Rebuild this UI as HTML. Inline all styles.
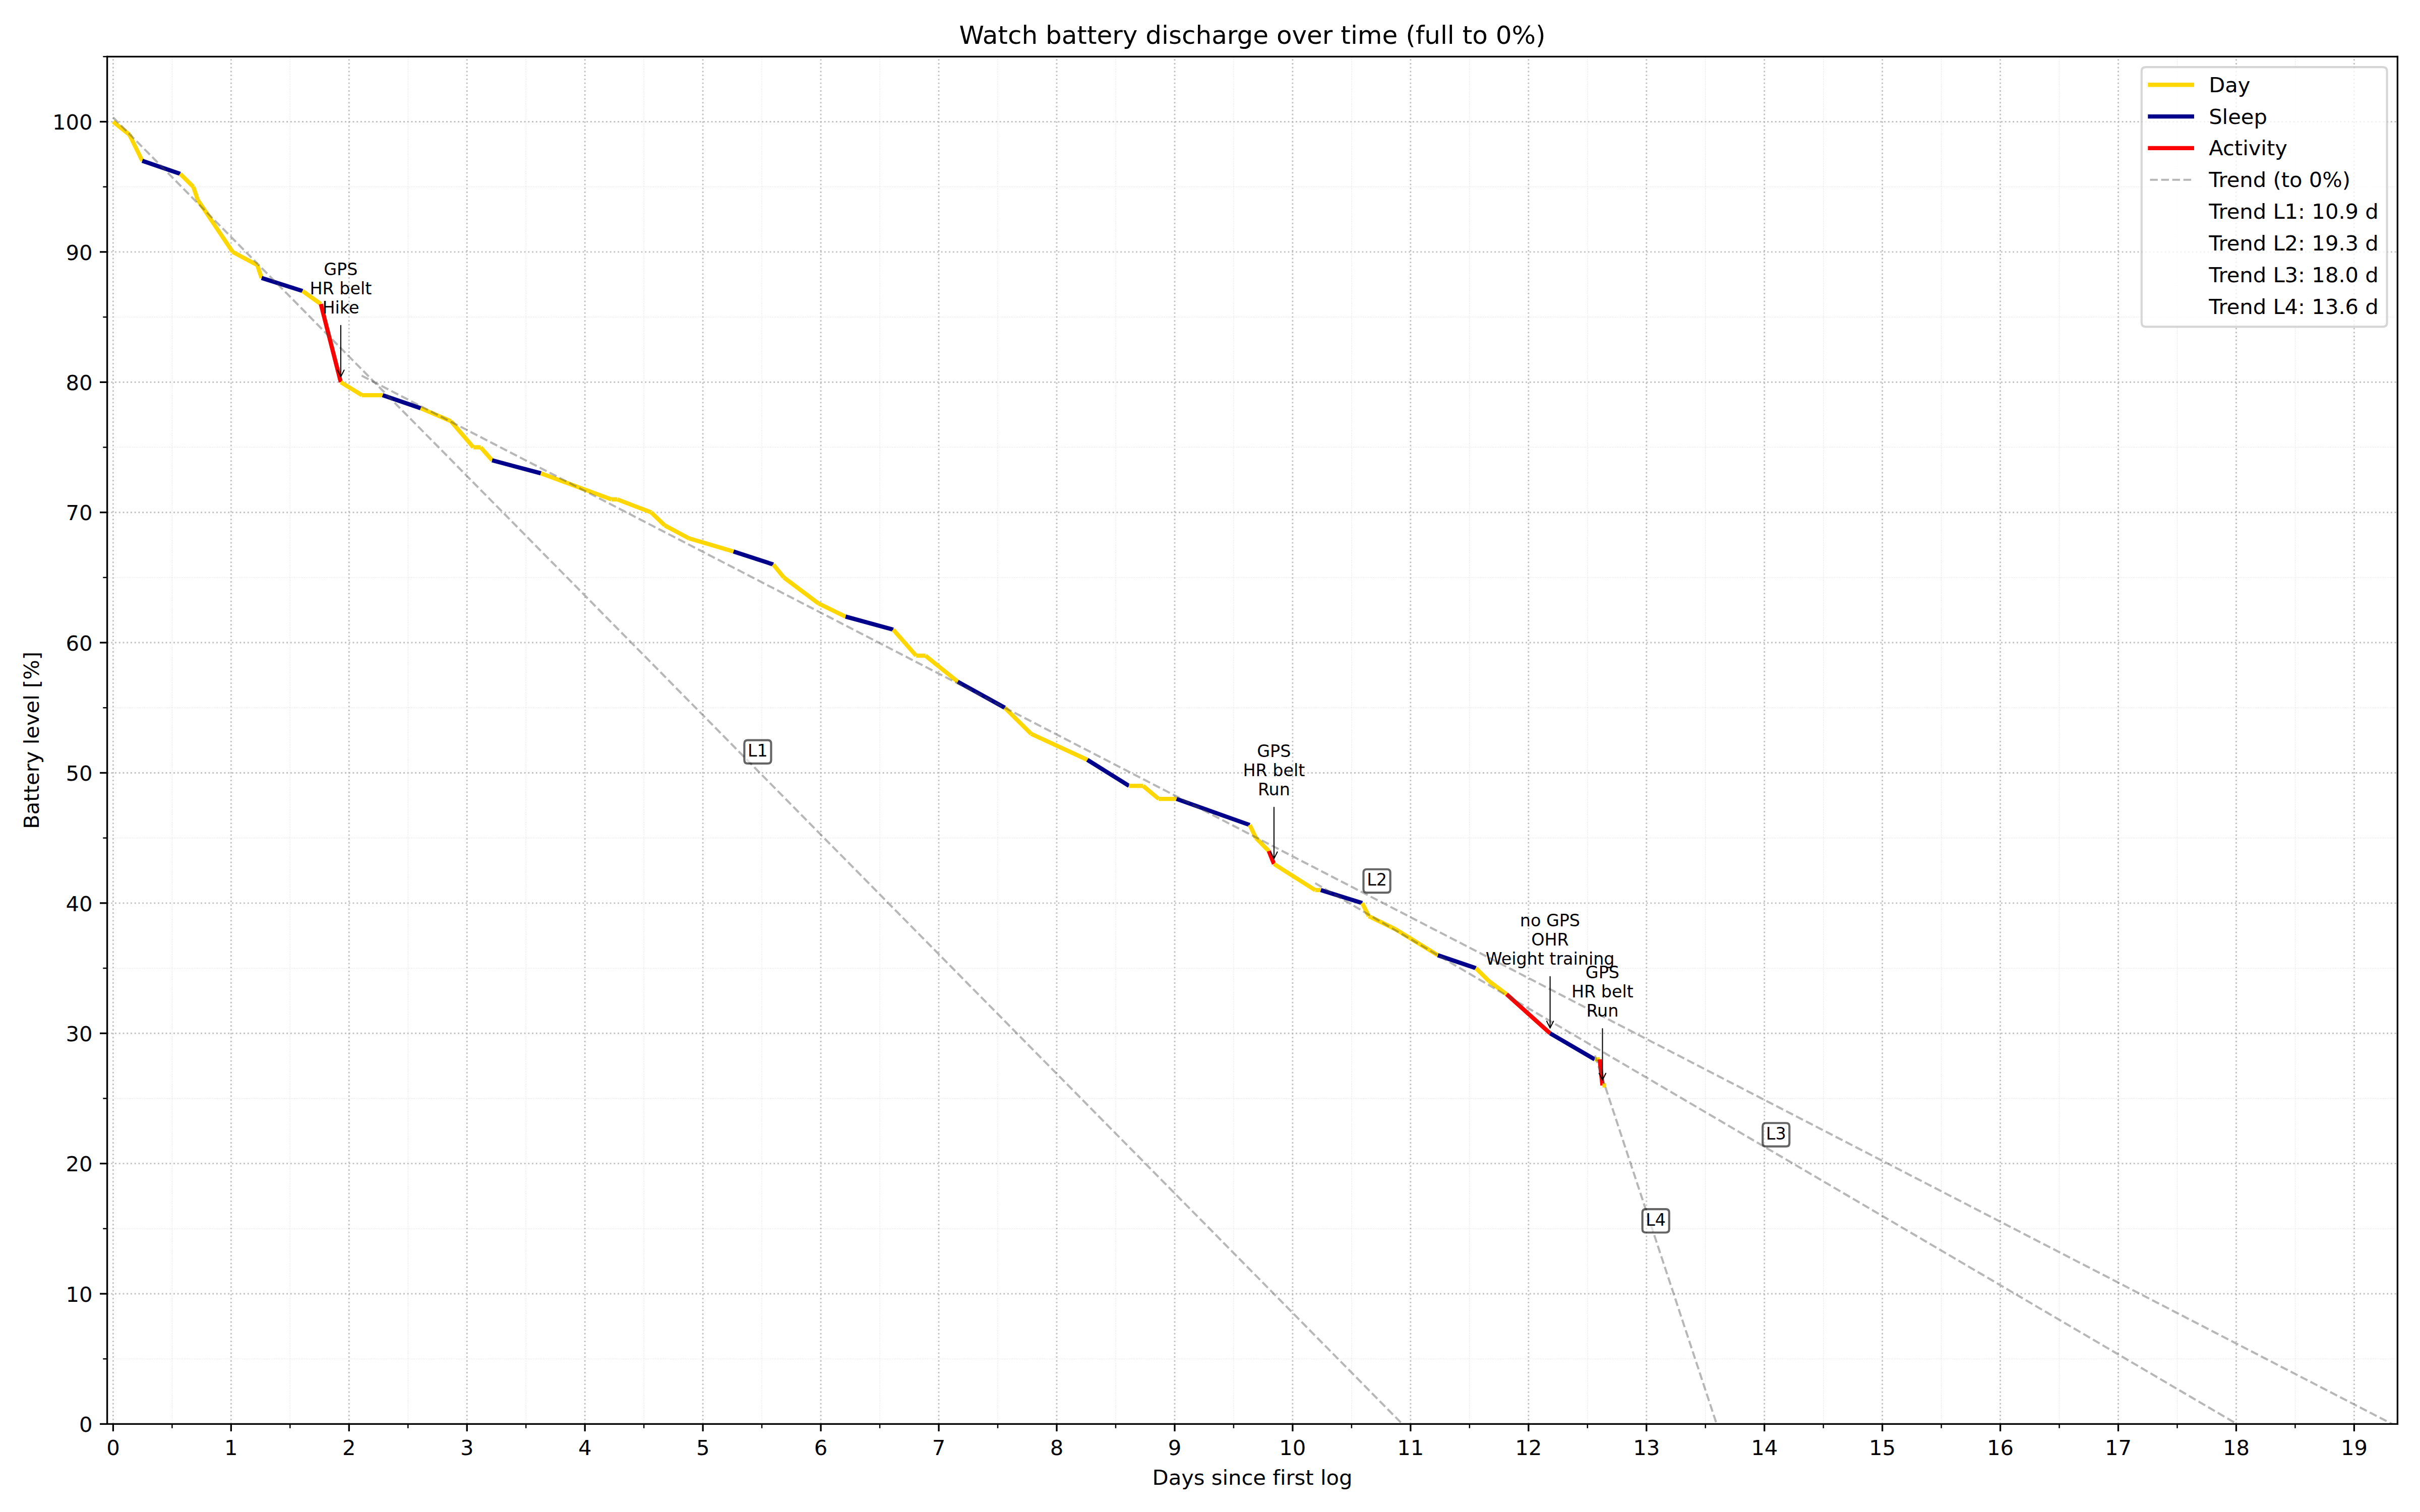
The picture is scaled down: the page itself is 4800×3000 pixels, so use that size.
<!DOCTYPE html>
<html lang="en">
<head>
<meta charset="utf-8">
<title>Watch battery discharge over time</title>
<style>html,body{margin:0;padding:0;background:#fff;}body{width:4800px;height:3000px;overflow:hidden;}svg{display:block;}svg text{font-family:"DejaVu Sans","Liberation Sans",sans-serif;font-variant-ligatures:none;font-feature-settings:"liga" 0,"clig" 0;}</style>
</head>
<body>
<svg width="4800" height="3000" viewBox="0 0 1152 720" version="1.1">
 <defs>
  <style type="text/css">*{stroke-linejoin: round; stroke-linecap: butt}</style>
 </defs>
 <g id="figure_1">
  <g id="patch_1">
   <path d="M 0 720 L 1152 720 L 1152 0 L 0 0 z" style="fill: #ffffff"/>
  </g>
  <g id="axes_1">
   <g id="patch_2">
    <path d="M 51.024 678.096 L 1141.296 678.096 L 1141.296 26.952 L 51.024 26.952 z" style="fill: #ffffff"/>
   </g>
   <g id="matplotlib.axis_1">
    <g id="xtick_1">
     <g id="line2d_1">
      <path d="M 53.856 678.096 L 53.856 26.952" clip-path="url(#pb41a5ad9aa)" style="fill: none; stroke-dasharray: 0.7,1.155; stroke-dashoffset: 0; stroke: #b0b0b0; stroke-opacity: 0.8; stroke-width: 0.7"/>
     </g>
     <g id="line2d_2">
      <g>
       <path d="M 0 0 L 0 3.5" transform="translate(53.856 678.096)" style="stroke: #000000; stroke-width: 0.8"/>
      </g>
     </g>
     <g id="text_1">
      <text style="font-size: 10px; font-family: 'DejaVu Sans'; text-anchor: middle" x="53.856" y="692.836">0</text>
     </g>
    </g>
    <g id="xtick_2">
     <g id="line2d_3">
      <path d="M 110.003368 678.096 L 110.003368 26.952" clip-path="url(#pb41a5ad9aa)" style="fill: none; stroke-dasharray: 0.7,1.155; stroke-dashoffset: 0; stroke: #b0b0b0; stroke-opacity: 0.8; stroke-width: 0.7"/>
     </g>
     <g id="line2d_4">
      <g>
       <path d="M 0 0 L 0 3.5" transform="translate(110.003368 678.096)" style="stroke: #000000; stroke-width: 0.8"/>
      </g>
     </g>
     <g id="text_2">
      <text style="font-size: 10px; font-family: 'DejaVu Sans'; text-anchor: middle" x="110.003" y="692.836">1</text>
     </g>
    </g>
    <g id="xtick_3">
     <g id="line2d_5">
      <path d="M 166.150737 678.096 L 166.150737 26.952" clip-path="url(#pb41a5ad9aa)" style="fill: none; stroke-dasharray: 0.7,1.155; stroke-dashoffset: 0; stroke: #b0b0b0; stroke-opacity: 0.8; stroke-width: 0.7"/>
     </g>
     <g id="line2d_6">
      <g>
       <path d="M 0 0 L 0 3.5" transform="translate(166.150737 678.096)" style="stroke: #000000; stroke-width: 0.8"/>
      </g>
     </g>
     <g id="text_3">
      <text style="font-size: 10px; font-family: 'DejaVu Sans'; text-anchor: middle" x="166.151" y="692.836">2</text>
     </g>
    </g>
    <g id="xtick_4">
     <g id="line2d_7">
      <path d="M 222.298105 678.096 L 222.298105 26.952" clip-path="url(#pb41a5ad9aa)" style="fill: none; stroke-dasharray: 0.7,1.155; stroke-dashoffset: 0; stroke: #b0b0b0; stroke-opacity: 0.8; stroke-width: 0.7"/>
     </g>
     <g id="line2d_8">
      <g>
       <path d="M 0 0 L 0 3.5" transform="translate(222.298105 678.096)" style="stroke: #000000; stroke-width: 0.8"/>
      </g>
     </g>
     <g id="text_4">
      <text style="font-size: 10px; font-family: 'DejaVu Sans'; text-anchor: middle" x="222.298" y="692.836">3</text>
     </g>
    </g>
    <g id="xtick_5">
     <g id="line2d_9">
      <path d="M 278.445474 678.096 L 278.445474 26.952" clip-path="url(#pb41a5ad9aa)" style="fill: none; stroke-dasharray: 0.7,1.155; stroke-dashoffset: 0; stroke: #b0b0b0; stroke-opacity: 0.8; stroke-width: 0.7"/>
     </g>
     <g id="line2d_10">
      <g>
       <path d="M 0 0 L 0 3.5" transform="translate(278.445474 678.096)" style="stroke: #000000; stroke-width: 0.8"/>
      </g>
     </g>
     <g id="text_5">
      <text style="font-size: 10px; font-family: 'DejaVu Sans'; text-anchor: middle" x="278.445" y="692.836">4</text>
     </g>
    </g>
    <g id="xtick_6">
     <g id="line2d_11">
      <path d="M 334.592842 678.096 L 334.592842 26.952" clip-path="url(#pb41a5ad9aa)" style="fill: none; stroke-dasharray: 0.7,1.155; stroke-dashoffset: 0; stroke: #b0b0b0; stroke-opacity: 0.8; stroke-width: 0.7"/>
     </g>
     <g id="line2d_12">
      <g>
       <path d="M 0 0 L 0 3.5" transform="translate(334.592842 678.096)" style="stroke: #000000; stroke-width: 0.8"/>
      </g>
     </g>
     <g id="text_6">
      <text style="font-size: 10px; font-family: 'DejaVu Sans'; text-anchor: middle" x="334.593" y="692.836">5</text>
     </g>
    </g>
    <g id="xtick_7">
     <g id="line2d_13">
      <path d="M 390.740211 678.096 L 390.740211 26.952" clip-path="url(#pb41a5ad9aa)" style="fill: none; stroke-dasharray: 0.7,1.155; stroke-dashoffset: 0; stroke: #b0b0b0; stroke-opacity: 0.8; stroke-width: 0.7"/>
     </g>
     <g id="line2d_14">
      <g>
       <path d="M 0 0 L 0 3.5" transform="translate(390.740211 678.096)" style="stroke: #000000; stroke-width: 0.8"/>
      </g>
     </g>
     <g id="text_7">
      <text style="font-size: 10px; font-family: 'DejaVu Sans'; text-anchor: middle" x="390.740" y="692.836">6</text>
     </g>
    </g>
    <g id="xtick_8">
     <g id="line2d_15">
      <path d="M 446.887579 678.096 L 446.887579 26.952" clip-path="url(#pb41a5ad9aa)" style="fill: none; stroke-dasharray: 0.7,1.155; stroke-dashoffset: 0; stroke: #b0b0b0; stroke-opacity: 0.8; stroke-width: 0.7"/>
     </g>
     <g id="line2d_16">
      <g>
       <path d="M 0 0 L 0 3.5" transform="translate(446.887579 678.096)" style="stroke: #000000; stroke-width: 0.8"/>
      </g>
     </g>
     <g id="text_8">
      <text style="font-size: 10px; font-family: 'DejaVu Sans'; text-anchor: middle" x="446.888" y="692.836">7</text>
     </g>
    </g>
    <g id="xtick_9">
     <g id="line2d_17">
      <path d="M 503.034947 678.096 L 503.034947 26.952" clip-path="url(#pb41a5ad9aa)" style="fill: none; stroke-dasharray: 0.7,1.155; stroke-dashoffset: 0; stroke: #b0b0b0; stroke-opacity: 0.8; stroke-width: 0.7"/>
     </g>
     <g id="line2d_18">
      <g>
       <path d="M 0 0 L 0 3.5" transform="translate(503.034947 678.096)" style="stroke: #000000; stroke-width: 0.8"/>
      </g>
     </g>
     <g id="text_9">
      <text style="font-size: 10px; font-family: 'DejaVu Sans'; text-anchor: middle" x="503.035" y="692.836">8</text>
     </g>
    </g>
    <g id="xtick_10">
     <g id="line2d_19">
      <path d="M 559.182316 678.096 L 559.182316 26.952" clip-path="url(#pb41a5ad9aa)" style="fill: none; stroke-dasharray: 0.7,1.155; stroke-dashoffset: 0; stroke: #b0b0b0; stroke-opacity: 0.8; stroke-width: 0.7"/>
     </g>
     <g id="line2d_20">
      <g>
       <path d="M 0 0 L 0 3.5" transform="translate(559.182316 678.096)" style="stroke: #000000; stroke-width: 0.8"/>
      </g>
     </g>
     <g id="text_10">
      <text style="font-size: 10px; font-family: 'DejaVu Sans'; text-anchor: middle" x="559.182" y="692.836">9</text>
     </g>
    </g>
    <g id="xtick_11">
     <g id="line2d_21">
      <path d="M 615.329684 678.096 L 615.329684 26.952" clip-path="url(#pb41a5ad9aa)" style="fill: none; stroke-dasharray: 0.7,1.155; stroke-dashoffset: 0; stroke: #b0b0b0; stroke-opacity: 0.8; stroke-width: 0.7"/>
     </g>
     <g id="line2d_22">
      <g>
       <path d="M 0 0 L 0 3.5" transform="translate(615.329684 678.096)" style="stroke: #000000; stroke-width: 0.8"/>
      </g>
     </g>
     <g id="text_11">
      <text style="font-size: 10px; font-family: 'DejaVu Sans'; text-anchor: middle" x="615.330" y="692.836">10</text>
     </g>
    </g>
    <g id="xtick_12">
     <g id="line2d_23">
      <path d="M 671.477053 678.096 L 671.477053 26.952" clip-path="url(#pb41a5ad9aa)" style="fill: none; stroke-dasharray: 0.7,1.155; stroke-dashoffset: 0; stroke: #b0b0b0; stroke-opacity: 0.8; stroke-width: 0.7"/>
     </g>
     <g id="line2d_24">
      <g>
       <path d="M 0 0 L 0 3.5" transform="translate(671.477053 678.096)" style="stroke: #000000; stroke-width: 0.8"/>
      </g>
     </g>
     <g id="text_12">
      <text style="font-size: 10px; font-family: 'DejaVu Sans'; text-anchor: middle" x="671.477" y="692.836">11</text>
     </g>
    </g>
    <g id="xtick_13">
     <g id="line2d_25">
      <path d="M 727.624421 678.096 L 727.624421 26.952" clip-path="url(#pb41a5ad9aa)" style="fill: none; stroke-dasharray: 0.7,1.155; stroke-dashoffset: 0; stroke: #b0b0b0; stroke-opacity: 0.8; stroke-width: 0.7"/>
     </g>
     <g id="line2d_26">
      <g>
       <path d="M 0 0 L 0 3.5" transform="translate(727.624421 678.096)" style="stroke: #000000; stroke-width: 0.8"/>
      </g>
     </g>
     <g id="text_13">
      <text style="font-size: 10px; font-family: 'DejaVu Sans'; text-anchor: middle" x="727.624" y="692.836">12</text>
     </g>
    </g>
    <g id="xtick_14">
     <g id="line2d_27">
      <path d="M 783.771789 678.096 L 783.771789 26.952" clip-path="url(#pb41a5ad9aa)" style="fill: none; stroke-dasharray: 0.7,1.155; stroke-dashoffset: 0; stroke: #b0b0b0; stroke-opacity: 0.8; stroke-width: 0.7"/>
     </g>
     <g id="line2d_28">
      <g>
       <path d="M 0 0 L 0 3.5" transform="translate(783.771789 678.096)" style="stroke: #000000; stroke-width: 0.8"/>
      </g>
     </g>
     <g id="text_14">
      <text style="font-size: 10px; font-family: 'DejaVu Sans'; text-anchor: middle" x="783.772" y="692.836">13</text>
     </g>
    </g>
    <g id="xtick_15">
     <g id="line2d_29">
      <path d="M 839.919158 678.096 L 839.919158 26.952" clip-path="url(#pb41a5ad9aa)" style="fill: none; stroke-dasharray: 0.7,1.155; stroke-dashoffset: 0; stroke: #b0b0b0; stroke-opacity: 0.8; stroke-width: 0.7"/>
     </g>
     <g id="line2d_30">
      <g>
       <path d="M 0 0 L 0 3.5" transform="translate(839.919158 678.096)" style="stroke: #000000; stroke-width: 0.8"/>
      </g>
     </g>
     <g id="text_15">
      <text style="font-size: 10px; font-family: 'DejaVu Sans'; text-anchor: middle" x="839.919" y="692.836">14</text>
     </g>
    </g>
    <g id="xtick_16">
     <g id="line2d_31">
      <path d="M 896.066526 678.096 L 896.066526 26.952" clip-path="url(#pb41a5ad9aa)" style="fill: none; stroke-dasharray: 0.7,1.155; stroke-dashoffset: 0; stroke: #b0b0b0; stroke-opacity: 0.8; stroke-width: 0.7"/>
     </g>
     <g id="line2d_32">
      <g>
       <path d="M 0 0 L 0 3.5" transform="translate(896.066526 678.096)" style="stroke: #000000; stroke-width: 0.8"/>
      </g>
     </g>
     <g id="text_16">
      <text style="font-size: 10px; font-family: 'DejaVu Sans'; text-anchor: middle" x="896.067" y="692.836">15</text>
     </g>
    </g>
    <g id="xtick_17">
     <g id="line2d_33">
      <path d="M 952.213895 678.096 L 952.213895 26.952" clip-path="url(#pb41a5ad9aa)" style="fill: none; stroke-dasharray: 0.7,1.155; stroke-dashoffset: 0; stroke: #b0b0b0; stroke-opacity: 0.8; stroke-width: 0.7"/>
     </g>
     <g id="line2d_34">
      <g>
       <path d="M 0 0 L 0 3.5" transform="translate(952.213895 678.096)" style="stroke: #000000; stroke-width: 0.8"/>
      </g>
     </g>
     <g id="text_17">
      <text style="font-size: 10px; font-family: 'DejaVu Sans'; text-anchor: middle" x="952.214" y="692.836">16</text>
     </g>
    </g>
    <g id="xtick_18">
     <g id="line2d_35">
      <path d="M 1008.361263 678.096 L 1008.361263 26.952" clip-path="url(#pb41a5ad9aa)" style="fill: none; stroke-dasharray: 0.7,1.155; stroke-dashoffset: 0; stroke: #b0b0b0; stroke-opacity: 0.8; stroke-width: 0.7"/>
     </g>
     <g id="line2d_36">
      <g>
       <path d="M 0 0 L 0 3.5" transform="translate(1008.361263 678.096)" style="stroke: #000000; stroke-width: 0.8"/>
      </g>
     </g>
     <g id="text_18">
      <text style="font-size: 10px; font-family: 'DejaVu Sans'; text-anchor: middle" x="1008.361" y="692.836">17</text>
     </g>
    </g>
    <g id="xtick_19">
     <g id="line2d_37">
      <path d="M 1064.508632 678.096 L 1064.508632 26.952" clip-path="url(#pb41a5ad9aa)" style="fill: none; stroke-dasharray: 0.7,1.155; stroke-dashoffset: 0; stroke: #b0b0b0; stroke-opacity: 0.8; stroke-width: 0.7"/>
     </g>
     <g id="line2d_38">
      <g>
       <path d="M 0 0 L 0 3.5" transform="translate(1064.508632 678.096)" style="stroke: #000000; stroke-width: 0.8"/>
      </g>
     </g>
     <g id="text_19">
      <text style="font-size: 10px; font-family: 'DejaVu Sans'; text-anchor: middle" x="1064.509" y="692.836">18</text>
     </g>
    </g>
    <g id="xtick_20">
     <g id="line2d_39">
      <path d="M 1120.656 678.096 L 1120.656 26.952" clip-path="url(#pb41a5ad9aa)" style="fill: none; stroke-dasharray: 0.7,1.155; stroke-dashoffset: 0; stroke: #b0b0b0; stroke-opacity: 0.8; stroke-width: 0.7"/>
     </g>
     <g id="line2d_40">
      <g>
       <path d="M 0 0 L 0 3.5" transform="translate(1120.656 678.096)" style="stroke: #000000; stroke-width: 0.8"/>
      </g>
     </g>
     <g id="text_20">
      <text style="font-size: 10px; font-family: 'DejaVu Sans'; text-anchor: middle" x="1120.656" y="692.836">19</text>
     </g>
    </g>
    <g id="xtick_21">
     <g id="line2d_41">
      <path d="M 81.929684 678.096 L 81.929684 26.952" clip-path="url(#pb41a5ad9aa)" style="fill: none; stroke-dasharray: 0.3,0.495; stroke-dashoffset: 0; stroke: #b0b0b0; stroke-opacity: 0.4; stroke-width: 0.3"/>
     </g>
     <g id="line2d_42">
      <g>
       <path d="M 0 0 L 0 2" transform="translate(81.929684 678.096)" style="stroke: #000000; stroke-width: 0.6"/>
      </g>
     </g>
    </g>
    <g id="xtick_22">
     <g id="line2d_43">
      <path d="M 138.077053 678.096 L 138.077053 26.952" clip-path="url(#pb41a5ad9aa)" style="fill: none; stroke-dasharray: 0.3,0.495; stroke-dashoffset: 0; stroke: #b0b0b0; stroke-opacity: 0.4; stroke-width: 0.3"/>
     </g>
     <g id="line2d_44">
      <g>
       <path d="M 0 0 L 0 2" transform="translate(138.077053 678.096)" style="stroke: #000000; stroke-width: 0.6"/>
      </g>
     </g>
    </g>
    <g id="xtick_23">
     <g id="line2d_45">
      <path d="M 194.224421 678.096 L 194.224421 26.952" clip-path="url(#pb41a5ad9aa)" style="fill: none; stroke-dasharray: 0.3,0.495; stroke-dashoffset: 0; stroke: #b0b0b0; stroke-opacity: 0.4; stroke-width: 0.3"/>
     </g>
     <g id="line2d_46">
      <g>
       <path d="M 0 0 L 0 2" transform="translate(194.224421 678.096)" style="stroke: #000000; stroke-width: 0.6"/>
      </g>
     </g>
    </g>
    <g id="xtick_24">
     <g id="line2d_47">
      <path d="M 250.371789 678.096 L 250.371789 26.952" clip-path="url(#pb41a5ad9aa)" style="fill: none; stroke-dasharray: 0.3,0.495; stroke-dashoffset: 0; stroke: #b0b0b0; stroke-opacity: 0.4; stroke-width: 0.3"/>
     </g>
     <g id="line2d_48">
      <g>
       <path d="M 0 0 L 0 2" transform="translate(250.371789 678.096)" style="stroke: #000000; stroke-width: 0.6"/>
      </g>
     </g>
    </g>
    <g id="xtick_25">
     <g id="line2d_49">
      <path d="M 306.519158 678.096 L 306.519158 26.952" clip-path="url(#pb41a5ad9aa)" style="fill: none; stroke-dasharray: 0.3,0.495; stroke-dashoffset: 0; stroke: #b0b0b0; stroke-opacity: 0.4; stroke-width: 0.3"/>
     </g>
     <g id="line2d_50">
      <g>
       <path d="M 0 0 L 0 2" transform="translate(306.519158 678.096)" style="stroke: #000000; stroke-width: 0.6"/>
      </g>
     </g>
    </g>
    <g id="xtick_26">
     <g id="line2d_51">
      <path d="M 362.666526 678.096 L 362.666526 26.952" clip-path="url(#pb41a5ad9aa)" style="fill: none; stroke-dasharray: 0.3,0.495; stroke-dashoffset: 0; stroke: #b0b0b0; stroke-opacity: 0.4; stroke-width: 0.3"/>
     </g>
     <g id="line2d_52">
      <g>
       <path d="M 0 0 L 0 2" transform="translate(362.666526 678.096)" style="stroke: #000000; stroke-width: 0.6"/>
      </g>
     </g>
    </g>
    <g id="xtick_27">
     <g id="line2d_53">
      <path d="M 418.813895 678.096 L 418.813895 26.952" clip-path="url(#pb41a5ad9aa)" style="fill: none; stroke-dasharray: 0.3,0.495; stroke-dashoffset: 0; stroke: #b0b0b0; stroke-opacity: 0.4; stroke-width: 0.3"/>
     </g>
     <g id="line2d_54">
      <g>
       <path d="M 0 0 L 0 2" transform="translate(418.813895 678.096)" style="stroke: #000000; stroke-width: 0.6"/>
      </g>
     </g>
    </g>
    <g id="xtick_28">
     <g id="line2d_55">
      <path d="M 474.961263 678.096 L 474.961263 26.952" clip-path="url(#pb41a5ad9aa)" style="fill: none; stroke-dasharray: 0.3,0.495; stroke-dashoffset: 0; stroke: #b0b0b0; stroke-opacity: 0.4; stroke-width: 0.3"/>
     </g>
     <g id="line2d_56">
      <g>
       <path d="M 0 0 L 0 2" transform="translate(474.961263 678.096)" style="stroke: #000000; stroke-width: 0.6"/>
      </g>
     </g>
    </g>
    <g id="xtick_29">
     <g id="line2d_57">
      <path d="M 531.108632 678.096 L 531.108632 26.952" clip-path="url(#pb41a5ad9aa)" style="fill: none; stroke-dasharray: 0.3,0.495; stroke-dashoffset: 0; stroke: #b0b0b0; stroke-opacity: 0.4; stroke-width: 0.3"/>
     </g>
     <g id="line2d_58">
      <g>
       <path d="M 0 0 L 0 2" transform="translate(531.108632 678.096)" style="stroke: #000000; stroke-width: 0.6"/>
      </g>
     </g>
    </g>
    <g id="xtick_30">
     <g id="line2d_59">
      <path d="M 587.256 678.096 L 587.256 26.952" clip-path="url(#pb41a5ad9aa)" style="fill: none; stroke-dasharray: 0.3,0.495; stroke-dashoffset: 0; stroke: #b0b0b0; stroke-opacity: 0.4; stroke-width: 0.3"/>
     </g>
     <g id="line2d_60">
      <g>
       <path d="M 0 0 L 0 2" transform="translate(587.256 678.096)" style="stroke: #000000; stroke-width: 0.6"/>
      </g>
     </g>
    </g>
    <g id="xtick_31">
     <g id="line2d_61">
      <path d="M 643.403368 678.096 L 643.403368 26.952" clip-path="url(#pb41a5ad9aa)" style="fill: none; stroke-dasharray: 0.3,0.495; stroke-dashoffset: 0; stroke: #b0b0b0; stroke-opacity: 0.4; stroke-width: 0.3"/>
     </g>
     <g id="line2d_62">
      <g>
       <path d="M 0 0 L 0 2" transform="translate(643.403368 678.096)" style="stroke: #000000; stroke-width: 0.6"/>
      </g>
     </g>
    </g>
    <g id="xtick_32">
     <g id="line2d_63">
      <path d="M 699.550737 678.096 L 699.550737 26.952" clip-path="url(#pb41a5ad9aa)" style="fill: none; stroke-dasharray: 0.3,0.495; stroke-dashoffset: 0; stroke: #b0b0b0; stroke-opacity: 0.4; stroke-width: 0.3"/>
     </g>
     <g id="line2d_64">
      <g>
       <path d="M 0 0 L 0 2" transform="translate(699.550737 678.096)" style="stroke: #000000; stroke-width: 0.6"/>
      </g>
     </g>
    </g>
    <g id="xtick_33">
     <g id="line2d_65">
      <path d="M 755.698105 678.096 L 755.698105 26.952" clip-path="url(#pb41a5ad9aa)" style="fill: none; stroke-dasharray: 0.3,0.495; stroke-dashoffset: 0; stroke: #b0b0b0; stroke-opacity: 0.4; stroke-width: 0.3"/>
     </g>
     <g id="line2d_66">
      <g>
       <path d="M 0 0 L 0 2" transform="translate(755.698105 678.096)" style="stroke: #000000; stroke-width: 0.6"/>
      </g>
     </g>
    </g>
    <g id="xtick_34">
     <g id="line2d_67">
      <path d="M 811.845474 678.096 L 811.845474 26.952" clip-path="url(#pb41a5ad9aa)" style="fill: none; stroke-dasharray: 0.3,0.495; stroke-dashoffset: 0; stroke: #b0b0b0; stroke-opacity: 0.4; stroke-width: 0.3"/>
     </g>
     <g id="line2d_68">
      <g>
       <path d="M 0 0 L 0 2" transform="translate(811.845474 678.096)" style="stroke: #000000; stroke-width: 0.6"/>
      </g>
     </g>
    </g>
    <g id="xtick_35">
     <g id="line2d_69">
      <path d="M 867.992842 678.096 L 867.992842 26.952" clip-path="url(#pb41a5ad9aa)" style="fill: none; stroke-dasharray: 0.3,0.495; stroke-dashoffset: 0; stroke: #b0b0b0; stroke-opacity: 0.4; stroke-width: 0.3"/>
     </g>
     <g id="line2d_70">
      <g>
       <path d="M 0 0 L 0 2" transform="translate(867.992842 678.096)" style="stroke: #000000; stroke-width: 0.6"/>
      </g>
     </g>
    </g>
    <g id="xtick_36">
     <g id="line2d_71">
      <path d="M 924.140211 678.096 L 924.140211 26.952" clip-path="url(#pb41a5ad9aa)" style="fill: none; stroke-dasharray: 0.3,0.495; stroke-dashoffset: 0; stroke: #b0b0b0; stroke-opacity: 0.4; stroke-width: 0.3"/>
     </g>
     <g id="line2d_72">
      <g>
       <path d="M 0 0 L 0 2" transform="translate(924.140211 678.096)" style="stroke: #000000; stroke-width: 0.6"/>
      </g>
     </g>
    </g>
    <g id="xtick_37">
     <g id="line2d_73">
      <path d="M 980.287579 678.096 L 980.287579 26.952" clip-path="url(#pb41a5ad9aa)" style="fill: none; stroke-dasharray: 0.3,0.495; stroke-dashoffset: 0; stroke: #b0b0b0; stroke-opacity: 0.4; stroke-width: 0.3"/>
     </g>
     <g id="line2d_74">
      <g>
       <path d="M 0 0 L 0 2" transform="translate(980.287579 678.096)" style="stroke: #000000; stroke-width: 0.6"/>
      </g>
     </g>
    </g>
    <g id="xtick_38">
     <g id="line2d_75">
      <path d="M 1036.434947 678.096 L 1036.434947 26.952" clip-path="url(#pb41a5ad9aa)" style="fill: none; stroke-dasharray: 0.3,0.495; stroke-dashoffset: 0; stroke: #b0b0b0; stroke-opacity: 0.4; stroke-width: 0.3"/>
     </g>
     <g id="line2d_76">
      <g>
       <path d="M 0 0 L 0 2" transform="translate(1036.434947 678.096)" style="stroke: #000000; stroke-width: 0.6"/>
      </g>
     </g>
    </g>
    <g id="xtick_39">
     <g id="line2d_77">
      <path d="M 1092.582316 678.096 L 1092.582316 26.952" clip-path="url(#pb41a5ad9aa)" style="fill: none; stroke-dasharray: 0.3,0.495; stroke-dashoffset: 0; stroke: #b0b0b0; stroke-opacity: 0.4; stroke-width: 0.3"/>
     </g>
     <g id="line2d_78">
      <g>
       <path d="M 0 0 L 0 2" transform="translate(1092.582316 678.096)" style="stroke: #000000; stroke-width: 0.6"/>
      </g>
     </g>
    </g>
    <g id="text_21">
     <text style="font-size: 10px; font-family: 'DejaVu Sans'; text-anchor: middle" x="596.16" y="707.096" transform="rotate(-0 596.16 707.096)">Days since first log</text>
    </g>
   </g>
   <g id="matplotlib.axis_2">
    <g id="ytick_1">
     <g id="line2d_79">
      <path d="M 51.024 678.096 L 1141.296 678.096" clip-path="url(#pb41a5ad9aa)" style="fill: none; stroke-dasharray: 0.7,1.155; stroke-dashoffset: 0; stroke: #b0b0b0; stroke-opacity: 0.8; stroke-width: 0.7"/>
     </g>
     <g id="line2d_80">
      <g>
       <path d="M 0 0 L -3.5 0" transform="translate(51.024 678.096)" style="stroke: #000000; stroke-width: 0.8"/>
      </g>
     </g>
     <g id="text_22">
      <text style="font-size: 10px; font-family: 'DejaVu Sans'; text-anchor: end" x="44.024" y="681.876">0</text>
     </g>
    </g>
    <g id="ytick_2">
     <g id="line2d_81">
      <path d="M 51.024 616.082286 L 1141.296 616.082286" clip-path="url(#pb41a5ad9aa)" style="fill: none; stroke-dasharray: 0.7,1.155; stroke-dashoffset: 0; stroke: #b0b0b0; stroke-opacity: 0.8; stroke-width: 0.7"/>
     </g>
     <g id="line2d_82">
      <g>
       <path d="M 0 0 L -3.5 0" transform="translate(51.024 616.082286)" style="stroke: #000000; stroke-width: 0.8"/>
      </g>
     </g>
     <g id="text_23">
      <text style="font-size: 10px; font-family: 'DejaVu Sans'; text-anchor: end" x="44.024" y="619.862">10</text>
     </g>
    </g>
    <g id="ytick_3">
     <g id="line2d_83">
      <path d="M 51.024 554.068571 L 1141.296 554.068571" clip-path="url(#pb41a5ad9aa)" style="fill: none; stroke-dasharray: 0.7,1.155; stroke-dashoffset: 0; stroke: #b0b0b0; stroke-opacity: 0.8; stroke-width: 0.7"/>
     </g>
     <g id="line2d_84">
      <g>
       <path d="M 0 0 L -3.5 0" transform="translate(51.024 554.068571)" style="stroke: #000000; stroke-width: 0.8"/>
      </g>
     </g>
     <g id="text_24">
      <text style="font-size: 10px; font-family: 'DejaVu Sans'; text-anchor: end" x="44.024" y="557.849">20</text>
     </g>
    </g>
    <g id="ytick_4">
     <g id="line2d_85">
      <path d="M 51.024 492.054857 L 1141.296 492.054857" clip-path="url(#pb41a5ad9aa)" style="fill: none; stroke-dasharray: 0.7,1.155; stroke-dashoffset: 0; stroke: #b0b0b0; stroke-opacity: 0.8; stroke-width: 0.7"/>
     </g>
     <g id="line2d_86">
      <g>
       <path d="M 0 0 L -3.5 0" transform="translate(51.024 492.054857)" style="stroke: #000000; stroke-width: 0.8"/>
      </g>
     </g>
     <g id="text_25">
      <text style="font-size: 10px; font-family: 'DejaVu Sans'; text-anchor: end" x="44.024" y="495.835">30</text>
     </g>
    </g>
    <g id="ytick_5">
     <g id="line2d_87">
      <path d="M 51.024 430.041143 L 1141.296 430.041143" clip-path="url(#pb41a5ad9aa)" style="fill: none; stroke-dasharray: 0.7,1.155; stroke-dashoffset: 0; stroke: #b0b0b0; stroke-opacity: 0.8; stroke-width: 0.7"/>
     </g>
     <g id="line2d_88">
      <g>
       <path d="M 0 0 L -3.5 0" transform="translate(51.024 430.041143)" style="stroke: #000000; stroke-width: 0.8"/>
      </g>
     </g>
     <g id="text_26">
      <text style="font-size: 10px; font-family: 'DejaVu Sans'; text-anchor: end" x="44.024" y="433.821">40</text>
     </g>
    </g>
    <g id="ytick_6">
     <g id="line2d_89">
      <path d="M 51.024 368.027429 L 1141.296 368.027429" clip-path="url(#pb41a5ad9aa)" style="fill: none; stroke-dasharray: 0.7,1.155; stroke-dashoffset: 0; stroke: #b0b0b0; stroke-opacity: 0.8; stroke-width: 0.7"/>
     </g>
     <g id="line2d_90">
      <g>
       <path d="M 0 0 L -3.5 0" transform="translate(51.024 368.027429)" style="stroke: #000000; stroke-width: 0.8"/>
      </g>
     </g>
     <g id="text_27">
      <text style="font-size: 10px; font-family: 'DejaVu Sans'; text-anchor: end" x="44.024" y="371.807">50</text>
     </g>
    </g>
    <g id="ytick_7">
     <g id="line2d_91">
      <path d="M 51.024 306.013714 L 1141.296 306.013714" clip-path="url(#pb41a5ad9aa)" style="fill: none; stroke-dasharray: 0.7,1.155; stroke-dashoffset: 0; stroke: #b0b0b0; stroke-opacity: 0.8; stroke-width: 0.7"/>
     </g>
     <g id="line2d_92">
      <g>
       <path d="M 0 0 L -3.5 0" transform="translate(51.024 306.013714)" style="stroke: #000000; stroke-width: 0.8"/>
      </g>
     </g>
     <g id="text_28">
      <text style="font-size: 10px; font-family: 'DejaVu Sans'; text-anchor: end" x="44.024" y="309.794">60</text>
     </g>
    </g>
    <g id="ytick_8">
     <g id="line2d_93">
      <path d="M 51.024 244 L 1141.296 244" clip-path="url(#pb41a5ad9aa)" style="fill: none; stroke-dasharray: 0.7,1.155; stroke-dashoffset: 0; stroke: #b0b0b0; stroke-opacity: 0.8; stroke-width: 0.7"/>
     </g>
     <g id="line2d_94">
      <g>
       <path d="M 0 0 L -3.5 0" transform="translate(51.024 244)" style="stroke: #000000; stroke-width: 0.8"/>
      </g>
     </g>
     <g id="text_29">
      <text style="font-size: 10px; font-family: 'DejaVu Sans'; text-anchor: end" x="44.024" y="247.780">70</text>
     </g>
    </g>
    <g id="ytick_9">
     <g id="line2d_95">
      <path d="M 51.024 181.986286 L 1141.296 181.986286" clip-path="url(#pb41a5ad9aa)" style="fill: none; stroke-dasharray: 0.7,1.155; stroke-dashoffset: 0; stroke: #b0b0b0; stroke-opacity: 0.8; stroke-width: 0.7"/>
     </g>
     <g id="line2d_96">
      <g>
       <path d="M 0 0 L -3.5 0" transform="translate(51.024 181.986286)" style="stroke: #000000; stroke-width: 0.8"/>
      </g>
     </g>
     <g id="text_30">
      <text style="font-size: 10px; font-family: 'DejaVu Sans'; text-anchor: end" x="44.024" y="185.766">80</text>
     </g>
    </g>
    <g id="ytick_10">
     <g id="line2d_97">
      <path d="M 51.024 119.972571 L 1141.296 119.972571" clip-path="url(#pb41a5ad9aa)" style="fill: none; stroke-dasharray: 0.7,1.155; stroke-dashoffset: 0; stroke: #b0b0b0; stroke-opacity: 0.8; stroke-width: 0.7"/>
     </g>
     <g id="line2d_98">
      <g>
       <path d="M 0 0 L -3.5 0" transform="translate(51.024 119.972571)" style="stroke: #000000; stroke-width: 0.8"/>
      </g>
     </g>
     <g id="text_31">
      <text style="font-size: 10px; font-family: 'DejaVu Sans'; text-anchor: end" x="44.024" y="123.753">90</text>
     </g>
    </g>
    <g id="ytick_11">
     <g id="line2d_99">
      <path d="M 51.024 57.958857 L 1141.296 57.958857" clip-path="url(#pb41a5ad9aa)" style="fill: none; stroke-dasharray: 0.7,1.155; stroke-dashoffset: 0; stroke: #b0b0b0; stroke-opacity: 0.8; stroke-width: 0.7"/>
     </g>
     <g id="line2d_100">
      <g>
       <path d="M 0 0 L -3.5 0" transform="translate(51.024 57.958857)" style="stroke: #000000; stroke-width: 0.8"/>
      </g>
     </g>
     <g id="text_32">
      <text style="font-size: 10px; font-family: 'DejaVu Sans'; text-anchor: end" x="44.024" y="61.739">100</text>
     </g>
    </g>
    <g id="ytick_12">
     <g id="line2d_101">
      <path d="M 51.024 647.089143 L 1141.296 647.089143" clip-path="url(#pb41a5ad9aa)" style="fill: none; stroke-dasharray: 0.3,0.495; stroke-dashoffset: 0; stroke: #b0b0b0; stroke-opacity: 0.4; stroke-width: 0.3"/>
     </g>
     <g id="line2d_102">
      <g>
       <path d="M 0 0 L -2 0" transform="translate(51.024 647.089143)" style="stroke: #000000; stroke-width: 0.6"/>
      </g>
     </g>
    </g>
    <g id="ytick_13">
     <g id="line2d_103">
      <path d="M 51.024 585.075429 L 1141.296 585.075429" clip-path="url(#pb41a5ad9aa)" style="fill: none; stroke-dasharray: 0.3,0.495; stroke-dashoffset: 0; stroke: #b0b0b0; stroke-opacity: 0.4; stroke-width: 0.3"/>
     </g>
     <g id="line2d_104">
      <g>
       <path d="M 0 0 L -2 0" transform="translate(51.024 585.075429)" style="stroke: #000000; stroke-width: 0.6"/>
      </g>
     </g>
    </g>
    <g id="ytick_14">
     <g id="line2d_105">
      <path d="M 51.024 523.061714 L 1141.296 523.061714" clip-path="url(#pb41a5ad9aa)" style="fill: none; stroke-dasharray: 0.3,0.495; stroke-dashoffset: 0; stroke: #b0b0b0; stroke-opacity: 0.4; stroke-width: 0.3"/>
     </g>
     <g id="line2d_106">
      <g>
       <path d="M 0 0 L -2 0" transform="translate(51.024 523.061714)" style="stroke: #000000; stroke-width: 0.6"/>
      </g>
     </g>
    </g>
    <g id="ytick_15">
     <g id="line2d_107">
      <path d="M 51.024 461.048 L 1141.296 461.048" clip-path="url(#pb41a5ad9aa)" style="fill: none; stroke-dasharray: 0.3,0.495; stroke-dashoffset: 0; stroke: #b0b0b0; stroke-opacity: 0.4; stroke-width: 0.3"/>
     </g>
     <g id="line2d_108">
      <g>
       <path d="M 0 0 L -2 0" transform="translate(51.024 461.048)" style="stroke: #000000; stroke-width: 0.6"/>
      </g>
     </g>
    </g>
    <g id="ytick_16">
     <g id="line2d_109">
      <path d="M 51.024 399.034286 L 1141.296 399.034286" clip-path="url(#pb41a5ad9aa)" style="fill: none; stroke-dasharray: 0.3,0.495; stroke-dashoffset: 0; stroke: #b0b0b0; stroke-opacity: 0.4; stroke-width: 0.3"/>
     </g>
     <g id="line2d_110">
      <g>
       <path d="M 0 0 L -2 0" transform="translate(51.024 399.034286)" style="stroke: #000000; stroke-width: 0.6"/>
      </g>
     </g>
    </g>
    <g id="ytick_17">
     <g id="line2d_111">
      <path d="M 51.024 337.020571 L 1141.296 337.020571" clip-path="url(#pb41a5ad9aa)" style="fill: none; stroke-dasharray: 0.3,0.495; stroke-dashoffset: 0; stroke: #b0b0b0; stroke-opacity: 0.4; stroke-width: 0.3"/>
     </g>
     <g id="line2d_112">
      <g>
       <path d="M 0 0 L -2 0" transform="translate(51.024 337.020571)" style="stroke: #000000; stroke-width: 0.6"/>
      </g>
     </g>
    </g>
    <g id="ytick_18">
     <g id="line2d_113">
      <path d="M 51.024 275.006857 L 1141.296 275.006857" clip-path="url(#pb41a5ad9aa)" style="fill: none; stroke-dasharray: 0.3,0.495; stroke-dashoffset: 0; stroke: #b0b0b0; stroke-opacity: 0.4; stroke-width: 0.3"/>
     </g>
     <g id="line2d_114">
      <g>
       <path d="M 0 0 L -2 0" transform="translate(51.024 275.006857)" style="stroke: #000000; stroke-width: 0.6"/>
      </g>
     </g>
    </g>
    <g id="ytick_19">
     <g id="line2d_115">
      <path d="M 51.024 212.993143 L 1141.296 212.993143" clip-path="url(#pb41a5ad9aa)" style="fill: none; stroke-dasharray: 0.3,0.495; stroke-dashoffset: 0; stroke: #b0b0b0; stroke-opacity: 0.4; stroke-width: 0.3"/>
     </g>
     <g id="line2d_116">
      <g>
       <path d="M 0 0 L -2 0" transform="translate(51.024 212.993143)" style="stroke: #000000; stroke-width: 0.6"/>
      </g>
     </g>
    </g>
    <g id="ytick_20">
     <g id="line2d_117">
      <path d="M 51.024 150.979429 L 1141.296 150.979429" clip-path="url(#pb41a5ad9aa)" style="fill: none; stroke-dasharray: 0.3,0.495; stroke-dashoffset: 0; stroke: #b0b0b0; stroke-opacity: 0.4; stroke-width: 0.3"/>
     </g>
     <g id="line2d_118">
      <g>
       <path d="M 0 0 L -2 0" transform="translate(51.024 150.979429)" style="stroke: #000000; stroke-width: 0.6"/>
      </g>
     </g>
    </g>
    <g id="ytick_21">
     <g id="line2d_119">
      <path d="M 51.024 88.965714 L 1141.296 88.965714" clip-path="url(#pb41a5ad9aa)" style="fill: none; stroke-dasharray: 0.3,0.495; stroke-dashoffset: 0; stroke: #b0b0b0; stroke-opacity: 0.4; stroke-width: 0.3"/>
     </g>
     <g id="line2d_120">
      <g>
       <path d="M 0 0 L -2 0" transform="translate(51.024 88.965714)" style="stroke: #000000; stroke-width: 0.6"/>
      </g>
     </g>
    </g>
    <g id="ytick_22">
     <g id="line2d_121">
      <path d="M 51.024 26.952 L 1141.296 26.952" clip-path="url(#pb41a5ad9aa)" style="fill: none; stroke-dasharray: 0.3,0.495; stroke-dashoffset: 0; stroke: #b0b0b0; stroke-opacity: 0.4; stroke-width: 0.3"/>
     </g>
     <g id="line2d_122">
      <g>
       <path d="M 0 0 L -2 0" transform="translate(51.024 26.952)" style="stroke: #000000; stroke-width: 0.6"/>
      </g>
     </g>
    </g>
    <g id="text_33">
     <text style="font-size: 10px; font-family: 'DejaVu Sans'; text-anchor: middle" x="18.544" y="352.524" transform="rotate(-90 18.544 352.524)">Battery level [%]</text>
    </g>
   </g>
   <g id="LineCollection_1">
    <path d="M 53.856 57.958857 L 61.632411 64.160229" clip-path="url(#pb41a5ad9aa)" style="fill: none; stroke: #ffd700; stroke-width: 2"/>
    <path d="M 61.632411 64.160229 L 67.7244 76.562971" clip-path="url(#pb41a5ad9aa)" style="fill: none; stroke: #ffd700; stroke-width: 2"/>
    <path d="M 67.7244 76.562971 L 85.775779 82.764343" clip-path="url(#pb41a5ad9aa)" style="fill: none; stroke: #00008b; stroke-width: 2"/>
    <path d="M 85.775779 82.764343 L 92.036211 88.965714" clip-path="url(#pb41a5ad9aa)" style="fill: none; stroke: #ffd700; stroke-width: 2"/>
    <path d="M 92.036211 88.965714 L 94.113663 95.167086" clip-path="url(#pb41a5ad9aa)" style="fill: none; stroke: #ffd700; stroke-width: 2"/>
    <path d="M 94.113663 95.167086 L 110.761358 119.972571" clip-path="url(#pb41a5ad9aa)" style="fill: none; stroke: #ffd700; stroke-width: 2"/>
    <path d="M 110.761358 119.972571 L 122.45124 126.173943" clip-path="url(#pb41a5ad9aa)" style="fill: none; stroke: #ffd700; stroke-width: 2"/>
    <path d="M 122.45124 126.173943 L 124.545537 132.375314" clip-path="url(#pb41a5ad9aa)" style="fill: none; stroke: #ffd700; stroke-width: 2"/>
    <path d="M 124.545537 132.375314 L 144.028674 138.576686" clip-path="url(#pb41a5ad9aa)" style="fill: none; stroke: #00008b; stroke-width: 2"/>
    <path d="M 144.028674 138.576686 L 152.731516 144.778057" clip-path="url(#pb41a5ad9aa)" style="fill: none; stroke: #ffd700; stroke-width: 2"/>
    <path d="M 152.731516 144.778057 L 162.220421 181.986286" clip-path="url(#pb41a5ad9aa)" style="fill: none; stroke: #ff0000; stroke-width: 2"/>
    <path d="M 162.220421 181.986286 L 172.326947 188.187657" clip-path="url(#pb41a5ad9aa)" style="fill: none; stroke: #ffd700; stroke-width: 2"/>
    <path d="M 172.326947 188.187657 L 182.152737 188.187657" clip-path="url(#pb41a5ad9aa)" style="fill: none; stroke: #ffd700; stroke-width: 2"/>
    <path d="M 182.152737 188.187657 L 200.288337 194.389029" clip-path="url(#pb41a5ad9aa)" style="fill: none; stroke: #00008b; stroke-width: 2"/>
    <path d="M 200.288337 194.389029 L 214.662063 200.5904" clip-path="url(#pb41a5ad9aa)" style="fill: none; stroke: #ffd700; stroke-width: 2"/>
    <path d="M 214.662063 200.5904 L 225.330063 212.993143" clip-path="url(#pb41a5ad9aa)" style="fill: none; stroke: #ffd700; stroke-width: 2"/>
    <path d="M 225.330063 212.993143 L 228.8112 212.993143" clip-path="url(#pb41a5ad9aa)" style="fill: none; stroke: #ffd700; stroke-width: 2"/>
    <path d="M 228.8112 212.993143 L 234.257495 219.194514" clip-path="url(#pb41a5ad9aa)" style="fill: none; stroke: #ffd700; stroke-width: 2"/>
    <path d="M 234.257495 219.194514 L 257.502505 225.395886" clip-path="url(#pb41a5ad9aa)" style="fill: none; stroke: #00008b; stroke-width: 2"/>
    <path d="M 257.502505 225.395886 L 291.078632 237.798629" clip-path="url(#pb41a5ad9aa)" style="fill: none; stroke: #ffd700; stroke-width: 2"/>
    <path d="M 291.078632 237.798629 L 293.886 237.798629" clip-path="url(#pb41a5ad9aa)" style="fill: none; stroke: #ffd700; stroke-width: 2"/>
    <path d="M 293.886 237.798629 L 310.000295 244" clip-path="url(#pb41a5ad9aa)" style="fill: none; stroke: #ffd700; stroke-width: 2"/>
    <path d="M 310.000295 244 L 316.457242 250.201371" clip-path="url(#pb41a5ad9aa)" style="fill: none; stroke: #ffd700; stroke-width: 2"/>
    <path d="M 316.457242 250.201371 L 328.079747 256.402743" clip-path="url(#pb41a5ad9aa)" style="fill: none; stroke: #ffd700; stroke-width: 2"/>
    <path d="M 328.079747 256.402743 L 349.191158 262.604114" clip-path="url(#pb41a5ad9aa)" style="fill: none; stroke: #ffd700; stroke-width: 2"/>
    <path d="M 349.191158 262.604114 L 368.112821 268.805486" clip-path="url(#pb41a5ad9aa)" style="fill: none; stroke: #00008b; stroke-width: 2"/>
    <path d="M 368.112821 268.805486 L 373.166084 275.006857" clip-path="url(#pb41a5ad9aa)" style="fill: none; stroke: #ffd700; stroke-width: 2"/>
    <path d="M 373.166084 275.006857 L 389.729558 287.4096" clip-path="url(#pb41a5ad9aa)" style="fill: none; stroke: #ffd700; stroke-width: 2"/>
    <path d="M 389.729558 287.4096 L 402.531158 293.610971" clip-path="url(#pb41a5ad9aa)" style="fill: none; stroke: #ffd700; stroke-width: 2"/>
    <path d="M 402.531158 293.610971 L 425.214695 299.812343" clip-path="url(#pb41a5ad9aa)" style="fill: none; stroke: #00008b; stroke-width: 2"/>
    <path d="M 425.214695 299.812343 L 436.107284 312.215086" clip-path="url(#pb41a5ad9aa)" style="fill: none; stroke: #ffd700; stroke-width: 2"/>
    <path d="M 436.107284 312.215086 L 440.542926 312.215086" clip-path="url(#pb41a5ad9aa)" style="fill: none; stroke: #ffd700; stroke-width: 2"/>
    <path d="M 440.542926 312.215086 L 455.927305 324.617829" clip-path="url(#pb41a5ad9aa)" style="fill: none; stroke: #ffd700; stroke-width: 2"/>
    <path d="M 455.927305 324.617829 L 478.330105 337.020571" clip-path="url(#pb41a5ad9aa)" style="fill: none; stroke: #00008b; stroke-width: 2"/>
    <path d="M 478.330105 337.020571 L 490.850968 349.423314" clip-path="url(#pb41a5ad9aa)" style="fill: none; stroke: #ffd700; stroke-width: 2"/>
    <path d="M 490.850968 349.423314 L 517.633263 361.826057" clip-path="url(#pb41a5ad9aa)" style="fill: none; stroke: #ffd700; stroke-width: 2"/>
    <path d="M 517.633263 361.826057 L 537.453284 374.2288" clip-path="url(#pb41a5ad9aa)" style="fill: none; stroke: #00008b; stroke-width: 2"/>
    <path d="M 537.453284 374.2288 L 544.134821 374.2288" clip-path="url(#pb41a5ad9aa)" style="fill: none; stroke: #ffd700; stroke-width: 2"/>
    <path d="M 544.134821 374.2288 L 551.602421 380.430171" clip-path="url(#pb41a5ad9aa)" style="fill: none; stroke: #ffd700; stroke-width: 2"/>
    <path d="M 551.602421 380.430171 L 560.080674 380.430171" clip-path="url(#pb41a5ad9aa)" style="fill: none; stroke: #ffd700; stroke-width: 2"/>
    <path d="M 560.080674 380.430171 L 594.892042 392.832914" clip-path="url(#pb41a5ad9aa)" style="fill: none; stroke: #00008b; stroke-width: 2"/>
    <path d="M 594.892042 392.832914 L 597.867853 399.034286" clip-path="url(#pb41a5ad9aa)" style="fill: none; stroke: #ffd700; stroke-width: 2"/>
    <path d="M 597.867853 399.034286 L 603.987916 405.235657" clip-path="url(#pb41a5ad9aa)" style="fill: none; stroke: #ffd700; stroke-width: 2"/>
    <path d="M 603.987916 405.235657 L 606.4584 411.437029" clip-path="url(#pb41a5ad9aa)" style="fill: none; stroke: #ff0000; stroke-width: 2"/>
    <path d="M 606.4584 411.437029 L 626.053832 423.839771" clip-path="url(#pb41a5ad9aa)" style="fill: none; stroke: #ffd700; stroke-width: 2"/>
    <path d="M 626.053832 423.839771 L 628.748905 423.839771" clip-path="url(#pb41a5ad9aa)" style="fill: none; stroke: #ffd700; stroke-width: 2"/>
    <path d="M 628.748905 423.839771 L 648.456632 430.041143" clip-path="url(#pb41a5ad9aa)" style="fill: none; stroke: #00008b; stroke-width: 2"/>
    <path d="M 648.456632 430.041143 L 651.544737 436.242514" clip-path="url(#pb41a5ad9aa)" style="fill: none; stroke: #ffd700; stroke-width: 2"/>
    <path d="M 651.544737 436.242514 L 664.234042 442.443886" clip-path="url(#pb41a5ad9aa)" style="fill: none; stroke: #ffd700; stroke-width: 2"/>
    <path d="M 664.234042 442.443886 L 684.447095 454.846629" clip-path="url(#pb41a5ad9aa)" style="fill: none; stroke: #ffd700; stroke-width: 2"/>
    <path d="M 684.447095 454.846629 L 702.582695 461.048" clip-path="url(#pb41a5ad9aa)" style="fill: none; stroke: #00008b; stroke-width: 2"/>
    <path d="M 702.582695 461.048 L 708.8712 467.249371" clip-path="url(#pb41a5ad9aa)" style="fill: none; stroke: #ffd700; stroke-width: 2"/>
    <path d="M 708.8712 467.249371 L 717.181011 473.450743" clip-path="url(#pb41a5ad9aa)" style="fill: none; stroke: #ffd700; stroke-width: 2"/>
    <path d="M 717.181011 473.450743 L 737.899389 492.054857" clip-path="url(#pb41a5ad9aa)" style="fill: none; stroke: #ff0000; stroke-width: 2"/>
    <path d="M 737.899389 492.054857 L 759.123095 504.4576" clip-path="url(#pb41a5ad9aa)" style="fill: none; stroke: #00008b; stroke-width: 2"/>
    <path d="M 759.123095 504.4576 L 761.481284 504.4576" clip-path="url(#pb41a5ad9aa)" style="fill: none; stroke: #ffd700; stroke-width: 2"/>
    <path d="M 761.481284 504.4576 L 762.828821 516.860343" clip-path="url(#pb41a5ad9aa)" style="fill: none; stroke: #ff0000; stroke-width: 2"/>
    <path d="M 762.828821 516.860343 L 764.569389 516.860343" clip-path="url(#pb41a5ad9aa)" style="fill: none; stroke: #ffd700; stroke-width: 2"/>
   </g>
   <g id="line2d_123">
    <path d="M 53.856 55.912405 L 667.546737 678.096" clip-path="url(#pb41a5ad9aa)" style="fill: none; stroke-dasharray: 3.7,1.6; stroke-dashoffset: 0; stroke: #4c4c4c; stroke-opacity: 0.4"/>
   </g>
   <g id="line2d_124">
    <path d="M 172.158505 178.8856 L 1138.735453 678.096" clip-path="url(#pb41a5ad9aa)" style="fill: none; stroke-dasharray: 3.7,1.6; stroke-dashoffset: 0; stroke: #4c4c4c; stroke-opacity: 0.4"/>
   </g>
   <g id="line2d_125">
    <path d="M 626.053832 420.553045 L 1064.845516 678.096" clip-path="url(#pb41a5ad9aa)" style="fill: none; stroke-dasharray: 3.7,1.6; stroke-dashoffset: 0; stroke: #4c4c4c; stroke-opacity: 0.4"/>
   </g>
   <g id="line2d_126">
    <path d="M 759.235389 502.597189 L 817.179474 678.096" clip-path="url(#pb41a5ad9aa)" style="fill: none; stroke-dasharray: 3.7,1.6; stroke-dashoffset: 0; stroke: #4c4c4c; stroke-opacity: 0.4"/>
   </g>
   <g id="patch_3">
    <path d="M 51.024 678.096 L 51.024 26.952" style="fill: none; stroke: #000000; stroke-width: 0.8; stroke-linejoin: miter; stroke-linecap: square"/>
   </g>
   <g id="patch_4">
    <path d="M 1141.296 678.096 L 1141.296 26.952" style="fill: none; stroke: #000000; stroke-width: 0.8; stroke-linejoin: miter; stroke-linecap: square"/>
   </g>
   <g id="patch_5">
    <path d="M 51.024 678.096 L 1141.296 678.096" style="fill: none; stroke: #000000; stroke-width: 0.8; stroke-linejoin: miter; stroke-linecap: square"/>
   </g>
   <g id="patch_6">
    <path d="M 51.024 26.952 L 1141.296 26.952" style="fill: none; stroke: #000000; stroke-width: 0.8; stroke-linejoin: miter; stroke-linecap: square"/>
   </g>
   <g id="text_34">
    <text style="font-size: 12px; font-family: 'DejaVu Sans'; text-anchor: middle" x="596.16" y="20.952" transform="rotate(-0 596.16 20.952)">Watch battery discharge over time (full to 0%)</text>
   </g>
   <g id="text_35">
    <g id="patch_7">
     <path d="M 355.931368 363.572214 L 365.471368 363.572214 Q 367.071368 363.572214 367.071368 361.972214 L 367.071368 354.052214 Q 367.071368 352.452214 365.471368 352.452214 L 355.931368 352.452214 Q 354.331368 352.452214 354.331368 354.052214 L 354.331368 361.972214 Q 354.331368 363.572214 355.931368 363.572214 z" style="fill: #ffffff; opacity: 0.6; stroke: #000000; stroke-linejoin: miter"/>
    </g>
    <text style="font-size: 8px; font-family: 'DejaVu Sans'; text-anchor: middle" x="360.701368" y="360.292214" transform="rotate(-0 360.701368 360.292214)">L1</text>
   </g>
   <g id="text_36">
    <g id="patch_8">
     <path d="M 650.661979 425.058811 L 660.231979 425.058811 Q 661.831979 425.058811 661.831979 423.458811 L 661.831979 415.538811 Q 661.831979 413.938811 660.231979 413.938811 L 650.661979 413.938811 Q 649.061979 413.938811 649.061979 415.538811 L 649.061979 423.458811 Q 649.061979 425.058811 650.661979 425.058811 z" style="fill: #ffffff; opacity: 0.6; stroke: #000000; stroke-linejoin: miter"/>
    </g>
    <text style="font-size: 8px; font-family: 'DejaVu Sans'; text-anchor: middle" x="655.446979" y="421.778811" transform="rotate(-0 655.446979 421.778811)">L2</text>
   </g>
   <g id="text_37">
    <g id="patch_9">
     <path d="M 840.679674 545.892534 L 850.219674 545.892534 Q 851.819674 545.892534 851.819674 544.292534 L 851.819674 536.372534 Q 851.819674 534.772534 850.219674 534.772534 L 840.679674 534.772534 Q 839.079674 534.772534 839.079674 536.372534 L 839.079674 544.292534 Q 839.079674 545.892534 840.679674 545.892534 z" style="fill: #ffffff; opacity: 0.6; stroke: #000000; stroke-linejoin: miter"/>
    </g>
    <text style="font-size: 8px; font-family: 'DejaVu Sans'; text-anchor: middle" x="845.449674" y="542.612534" transform="rotate(-0 845.449674 542.612534)">L3</text>
   </g>
   <g id="text_38">
    <g id="patch_10">
     <path d="M 783.437432 586.914606 L 792.977432 586.914606 Q 794.577432 586.914606 794.577432 585.314606 L 794.577432 577.394606 Q 794.577432 575.794606 792.977432 575.794606 L 783.437432 575.794606 Q 781.837432 575.794606 781.837432 577.394606 L 781.837432 585.314606 Q 781.837432 586.914606 783.437432 586.914606 z" style="fill: #ffffff; opacity: 0.6; stroke: #000000; stroke-linejoin: miter"/>
    </g>
    <text style="font-size: 8px; font-family: 'DejaVu Sans'; text-anchor: middle" x="788.207432" y="583.634606" transform="rotate(-0 788.207432 583.634606)">L4</text>
   </g>
   <g id="legend_1">
    <g id="patch_11">
     <path d="M 1021.476 155.592 L 1134.296 155.592 Q 1136.296 155.592 1136.296 153.592 L 1136.296 33.952 Q 1136.296 31.952 1134.296 31.952 L 1021.476 31.952 Q 1019.476 31.952 1019.476 33.952 L 1019.476 153.592 Q 1019.476 155.592 1021.476 155.592 z" style="fill: #ffffff; opacity: 0.8; stroke: #cccccc; stroke-linejoin: miter"/>
    </g>
    <g id="line2d_127">
     <path d="M 1023.476 40.372 L 1033.476 40.372 L 1043.476 40.372" style="fill: none; stroke: #ffd700; stroke-width: 2; stroke-linecap: square"/>
    </g>
    <g id="text_39">
     <text style="font-size: 10px; font-family: 'DejaVu Sans'; text-anchor: start" x="1051.476" y="43.872" transform="rotate(-0 1051.476 43.872)">Day</text>
    </g>
    <g id="line2d_128">
     <path d="M 1023.476 55.452 L 1033.476 55.452 L 1043.476 55.452" style="fill: none; stroke: #00008b; stroke-width: 2; stroke-linecap: square"/>
    </g>
    <g id="text_40">
     <text style="font-size: 10px; font-family: 'DejaVu Sans'; text-anchor: start" x="1051.476" y="58.952" transform="rotate(-0 1051.476 58.952)">Sleep</text>
    </g>
    <g id="line2d_129">
     <path d="M 1023.476 70.532 L 1033.476 70.532 L 1043.476 70.532" style="fill: none; stroke: #ff0000; stroke-width: 2; stroke-linecap: square"/>
    </g>
    <g id="text_41">
     <text style="font-size: 10px; font-family: 'DejaVu Sans'; text-anchor: start" x="1051.476" y="74.032" transform="rotate(-0 1051.476 74.032)">Activity</text>
    </g>
    <g id="line2d_130">
     <path d="M 1023.476 85.612 L 1033.476 85.612 L 1043.476 85.612" style="fill: none; stroke-dasharray: 3.7,1.6; stroke-dashoffset: 0; stroke: #4c4c4c; stroke-opacity: 0.4"/>
    </g>
    <g id="text_42">
     <text style="font-size: 10px; font-family: 'DejaVu Sans'; text-anchor: start" x="1051.476" y="89.112" transform="rotate(-0 1051.476 89.112)">Trend (to 0%)</text>
    </g>
    <g id="line2d_131"/>
    <g id="text_43">
     <text style="font-size: 10px; font-family: 'DejaVu Sans'; text-anchor: start" x="1051.476" y="104.192" transform="rotate(-0 1051.476 104.192)">Trend L1: 10.9 d</text>
    </g>
    <g id="line2d_132"/>
    <g id="text_44">
     <text style="font-size: 10px; font-family: 'DejaVu Sans'; text-anchor: start" x="1051.476" y="119.272" transform="rotate(-0 1051.476 119.272)">Trend L2: 19.3 d</text>
    </g>
    <g id="line2d_133"/>
    <g id="text_45">
     <text style="font-size: 10px; font-family: 'DejaVu Sans'; text-anchor: start" x="1051.476" y="134.352" transform="rotate(-0 1051.476 134.352)">Trend L3: 18.0 d</text>
    </g>
    <g id="line2d_134"/>
    <g id="text_46">
     <text style="font-size: 10px; font-family: 'DejaVu Sans'; text-anchor: start" x="1051.476" y="149.432" transform="rotate(-0 1051.476 149.432)">Trend L4: 13.6 d</text>
    </g>
   </g>
   <g id="patch_12">
    <path d="M 162.220421 154.986966 Q 162.220421 167.486346 162.220421 179.426709" style="fill: none; stroke: #000000; stroke-width: 0.5; stroke-linecap: round"/>
    <path d="M 163.820421 176.226709 L 162.220421 179.426709 L 160.620421 176.226709" style="fill: none; stroke: #000000; stroke-width: 0.5; stroke-linecap: round"/>
   </g>
   <g id="text_47">
    <text style="font-size: 8px; font-family: 'DejaVu Sans'" transform="translate(154.150421 130.970286)">GPS</text>
    <text style="font-size: 8px; font-family: 'DejaVu Sans'" transform="translate(147.475421 140.138286)">HR belt</text>
    <text style="font-size: 8px; font-family: 'DejaVu Sans'" transform="translate(153.490421 149.306286)">Hike</text>
   </g>
   <g id="patch_13">
    <path d="M 606.4584 384.437709 Q 606.4584 396.937089 606.4584 408.877452" style="fill: none; stroke: #000000; stroke-width: 0.5; stroke-linecap: round"/>
    <path d="M 608.0584 405.677452 L 606.4584 408.877452 L 604.8584 405.677452" style="fill: none; stroke: #000000; stroke-width: 0.5; stroke-linecap: round"/>
   </g>
   <g id="text_48">
    <text style="font-size: 8px; font-family: 'DejaVu Sans'" transform="translate(598.3884 360.421029)">GPS</text>
    <text style="font-size: 8px; font-family: 'DejaVu Sans'" transform="translate(591.7134 369.589029)">HR belt</text>
    <text style="font-size: 8px; font-family: 'DejaVu Sans'" transform="translate(598.7784 378.757029)">Run</text>
   </g>
   <g id="patch_14">
    <path d="M 737.899389 465.055537 Q 737.899389 477.554917 737.899389 489.49528" style="fill: none; stroke: #000000; stroke-width: 0.5; stroke-linecap: round"/>
    <path d="M 739.499389 486.29528 L 737.899389 489.49528 L 736.299389 486.29528" style="fill: none; stroke: #000000; stroke-width: 0.5; stroke-linecap: round"/>
   </g>
   <g id="text_49">
    <text style="font-size: 8px; font-family: 'DejaVu Sans'" transform="translate(723.559389 441.038857)">no GPS</text>
    <text style="font-size: 8px; font-family: 'DejaVu Sans'" transform="translate(728.959389 450.206857)">OHR</text>
    <text style="font-size: 8px; font-family: 'DejaVu Sans'" transform="translate(707.194389 459.374857)">Weight training</text>
   </g>
   <g id="patch_15">
    <path d="M 762.828821 489.861023 Q 762.828821 502.360403 762.828821 514.300766" style="fill: none; stroke: #000000; stroke-width: 0.5; stroke-linecap: round"/>
    <path d="M 764.428821 511.100766 L 762.828821 514.300766 L 761.228821 511.100766" style="fill: none; stroke: #000000; stroke-width: 0.5; stroke-linecap: round"/>
   </g>
   <g id="text_50">
    <text style="font-size: 8px; font-family: 'DejaVu Sans'" transform="translate(754.758821 465.844343)">GPS</text>
    <text style="font-size: 8px; font-family: 'DejaVu Sans'" transform="translate(748.083821 475.012343)">HR belt</text>
    <text style="font-size: 8px; font-family: 'DejaVu Sans'" transform="translate(755.148821 484.180343)">Run</text>
   </g>
  </g>
 </g>
 <defs>
  <clipPath id="pb41a5ad9aa">
   <rect x="51.024" y="26.952" width="1090.272" height="651.144"/>
  </clipPath>
 </defs>
</svg>

</body>
</html>
